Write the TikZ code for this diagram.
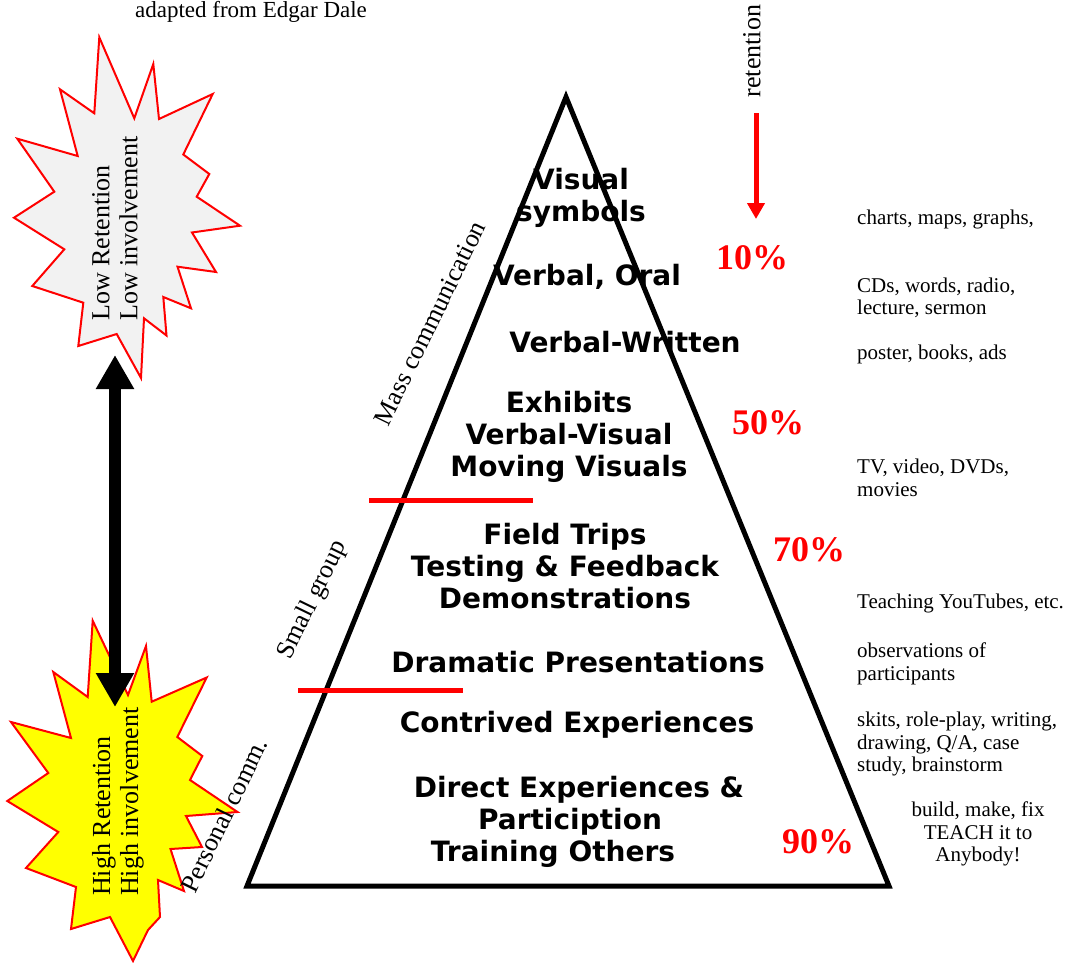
\documentclass[tikz,border=0pt]{standalone}
\usepackage{fontspec}
\setmainfont{Liberation Serif}
\newfontfamily\pyrfont{DejaVu Sans}
\usetikzlibrary{arrows.meta}
\definecolor{lowfill}{RGB}{242,242,242}
\definecolor{hifill}{RGB}{255,255,0}
\begin{document}
\begin{tikzpicture}[x=1pt,y=-1pt,
  pyr/.style={font=\pyrfont\bfseries\fontsize{28}{32}\selectfont, align=center, inner sep=0pt},
  side/.style={font=\fontsize{21}{22.5}\selectfont, align=left, anchor=west, inner sep=0pt},
  pct/.style={font=\bfseries\fontsize{36}{40}\selectfont, text=red, inner sep=0pt},
  rotlabel/.style={font=\fontsize{26}{28}\selectfont, rotate=64, inner sep=0pt},
  startext/.style={font=\fontsize{26}{28}\selectfont, rotate=90, align=left, anchor=north west, inner sep=0pt},
  starshape/.style={draw=red, line width=2pt, line join=miter},
  divider/.style={draw=red, line width=5pt},
  bigtip/.tip={Triangle[length=34pt,width=36pt]},
  redtip/.tip={Triangle[length=16pt,width=17pt]}
]
\useasboundingbox (0,0) rectangle (1074,962);

% starbursts
\filldraw[starshape, fill=lowfill]
 (99.3,37.3) -- (134.3,118.3) -- (153.3,64) -- (159,119) -- (212.7,94) -- (183.3,154.5)
 -- (209.3,174) -- (196.7,196.7) -- (240,225.7) -- (192,232.5) -- (216,272) -- (177.5,266.7)
 -- (191,308.3) -- (163.3,297) -- (166.5,335.5) -- (144,318.3) -- (141,378) -- (116.7,334)
 -- (78.3,346) -- (83.3,302.7) -- (32.3,286) -- (64.3,249.3) -- (14,217.7) -- (54.3,191.7)
 -- (17.3,138.7) -- (77.7,156) -- (60,89.3) -- (94.3,113.3) -- cycle;
\filldraw[starshape, fill=hifill]
 (92.7,620.7) -- (128,695) -- (146,646) -- (151.7,701.7) -- (206.7,677.5) -- (177.3,737)
 -- (202.3,756) -- (190,780) -- (237.5,812) -- (186,816) -- (202,847) -- (170.5,849)
 -- (184,891) -- (158,880) -- (160,917) -- (148,930) -- (133,961) -- (110,917) -- (71,929)
 -- (76,887) -- (26,868) -- (58.3,832) -- (7.3,801) -- (48.3,773) -- (11,722) -- (71,738)
 -- (53.3,672) -- (87.7,697) -- cycle;

\node[startext] (lowtext) at (92,321) {Low Retention\\Low involvement};
\node[startext] (hightext) at (92,896) {High Retention\\High involvement};

% double arrow
\coordinate (lowtip) at (115,355);
\coordinate (hightip) at (115,707);
\draw[line width=12pt, bigtip-bigtip] (lowtip) -- (hightip);

% pyramid
\coordinate (apex) at (566,97);
\coordinate (bl) at (247,886);
\coordinate (br) at (889,886);
\draw[line width=5pt, line join=miter] (apex) -- (br) -- (bl) -- cycle;

% dividers
\coordinate (d1a) at (369,500);
\coordinate (d1b) at (533,500);
\coordinate (d2a) at (298,690);
\coordinate (d2b) at (463,690);
\draw[divider] (d1a) -- (d1b);
\draw[divider] (d2a) -- (d2b);

% pyramid labels
\node[pyr] (visual) at (581,198) {Visual\\symbols};
\node[pyr] (oral) at (587,277) {Verbal, Oral};
\node[pyr] (written) at (625,342) {Verbal-Written};
\node[pyr] (exhibits) at (569,437) {Exhibits\\Verbal-Visual\\Moving Visuals};
\node[pyr] (field) at (565,566) {Field Trips\\Testing \& Feedback\\Demonstrations};
\node[pyr] (dramatic) at (578,662) {Dramatic Presentations};
\node[pyr] (contrived) at (577,725) {Contrived Experiences};
\node[pyr] (directa) at (579,790) {Direct Experiences \&};
\node[pyr] (directb) at (570,822) {Particiption};
\node[pyr] (directc) at (553,854) {Training Others};

% percentages
\node[pct] (p10) at (752,258) {10\%};
\node[pct] (p50) at (768,423) {50\%};
\node[pct] (p70) at (809,550) {70\%};
\node[pct] (p90) at (818,842) {90\%};

% retention arrow
\node[font=\fontsize{26}{28}\selectfont, rotate=90, inner sep=0pt] (retention) at (752,51) {retention};
\coordinate (rtop) at (756,113);
\coordinate (rbot) at (756,219);
\draw[red, line width=5pt, -redtip] (rtop) -- (rbot);

% side labels
\node[rotlabel] (mass) at (430,323) {Mass communication};
\node[rotlabel] (small) at (313,600) {Small group};
\node[rotlabel] (personal) at (224,815) {Personal comm.};

\node[font=\fontsize{23}{25}\selectfont, inner sep=0pt] (adapted) at (251,12) {adapted from Edgar Dale};

% examples column
\node[side] (ex1) at (857,219) {charts, maps, graphs,};
\node[side] (ex2) at (857,298) {CDs, words, radio,\\lecture, sermon};
\node[side] (ex3) at (857,354) {poster, books, ads};
\node[side] (ex4) at (857,478) {TV, video, DVDs,\\movies};
\node[side] (ex5) at (857,603) {Teaching YouTubes, etc.};
\node[side] (ex6) at (857,664) {observations of\\participants};
\node[side] (ex7) at (857,744) {skits, role-play, writing,\\drawing, Q/A, case\\study, brainstorm};
\node[font=\fontsize{21}{22.5}\selectfont, align=center, inner sep=0pt] (ex8) at (978,834) {build, make, fix\\TEACH it to\\Anybody!};
\end{tikzpicture}
\end{document}
